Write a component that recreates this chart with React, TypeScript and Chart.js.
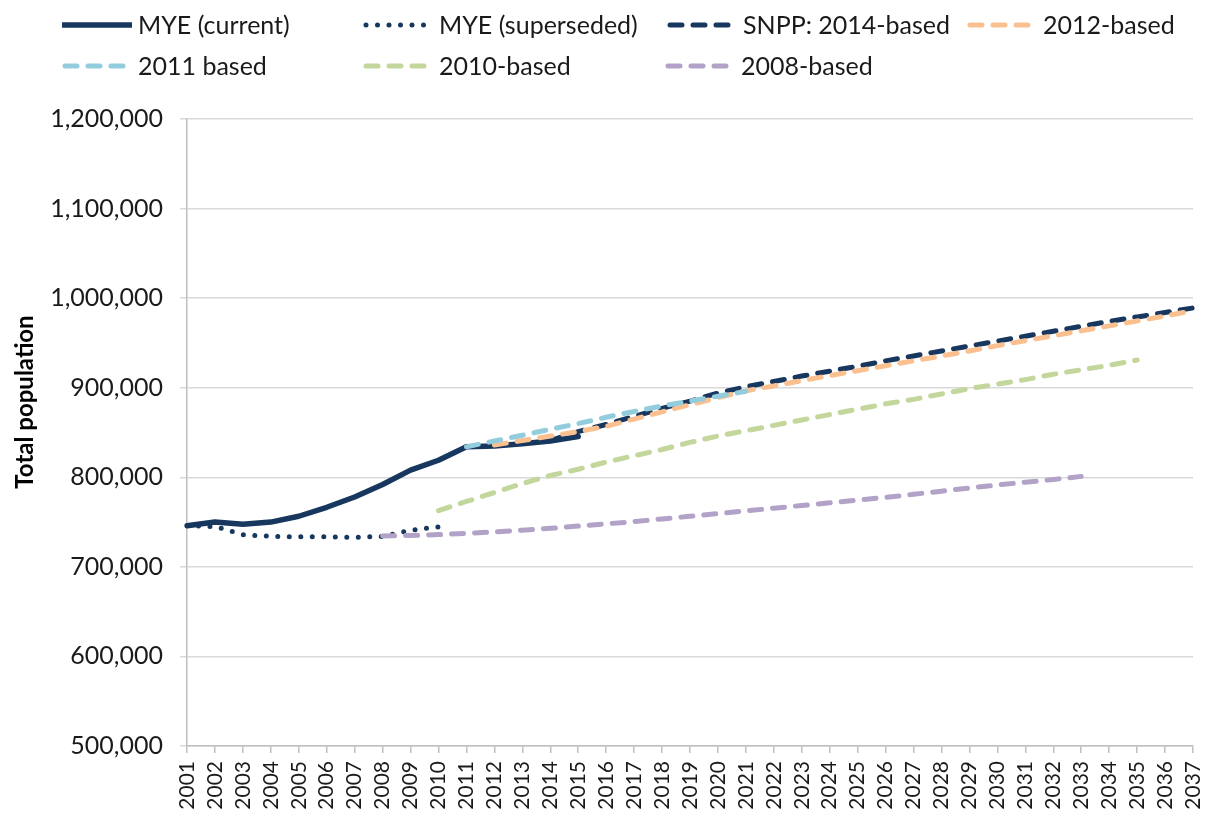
import React, { useEffect, useRef } from "react";
import { Chart, registerables } from "chart.js";

Chart.register(...registerables);

// ---------- data ----------
const years = [
  "2001", "2002", "2003", "2004", "2005", "2006", "2007", "2008", "2009", "2010",
  "2011", "2012", "2013", "2014", "2015", "2016", "2017", "2018", "2019", "2020",
  "2021", "2022", "2023", "2024", "2025", "2026", "2027", "2028", "2029", "2030",
  "2031", "2032", "2033", "2034", "2035", "2036", "2037",
];

const yTicks = [500000, 600000, 700000, 800000, 900000, 1000000, 1100000, 1200000];
const yTitle = "Total population";

// MYE (current): 2001-2015
const myeCurrentStart = "2001";
const myeCurrent = [
  746000, 750000, 747500, 750000, 756500, 766500, 778000, 792000, 808000, 819000,
  834000, 835000, 837500, 840500, 845500,
];

// MYE (superseded): 2001-2010
const myeSupersededStart = "2001";
const myeSuperseded = [
  746000, 745000, 736000, 734000, 733500, 733500, 733000, 734000, 741000, 744500,
];

// SNPP 2014-based: 2014-2037
const snpp2014Start = "2014";
const snpp2014 = [
  841000, 851000, 859000, 868000, 877000, 885000, 894000, 901000, 907000, 913000,
  918500, 924000, 930000, 935500, 941000, 946500, 952000, 957500, 963000, 968500,
  974000, 979000, 984000, 989000,
];

// 2012-based: 2012-2037
const snpp2012Start = "2012";
const snpp2012 = [
  836000, 841000, 846000, 851000, 857000, 865000, 873000, 881000, 889000, 896500,
  902000, 908000, 913500, 919000, 924500, 930000, 935500, 941000, 947000, 952500,
  958000, 963500, 969000, 974500, 980000, 986000,
];

// 2011 based: 2011-2021
const snpp2011Start = "2011";
const snpp2011 = [
  834000, 840500, 847000, 853500, 860000, 867000, 873500, 879500, 885000, 890500,
  896000,
];

// 2010-based: 2010-2035
const snpp2010Start = "2010";
const snpp2010 = [
  762700, 773000, 783000, 793000, 802000, 809000, 817000, 824000, 831000, 839000,
  846000, 852000, 858000, 864000, 870000, 876000, 882000, 887000, 893000, 899000,
  904000, 909000, 915000, 920000, 925000, 931000,
];

// 2008-based: 2008-2033
const snpp2008Start = "2008";
const snpp2008 = [
  734500, 735000, 736000, 737500, 739000, 741000, 743000, 745500, 748000, 750500,
  753500, 756500, 759500, 762500, 765500, 768500, 771500, 774500, 777500, 781000,
  784500, 788000, 791500, 794500, 797500, 801000,
];

// ---------- styles ----------
const NAVY = "#17375E";
const ORANGE = "#FAC090";
const LIGHTBLUE = "#93CDDD";
const GREEN = "#C3D69B";
const PURPLE = "#B3A2C7";
const TEXT = "#1a1a1a";
const FONT = "Lato, 'Open Sans', sans-serif";
const DASH = [12, 11];
const DOT = [0, 11.5];

function placeOnYears(start: string, values: number[]): (number | null)[] {
  const i0 = years.indexOf(start);
  return years.map((_, i) => (i >= i0 && i - i0 < values.length ? values[i - i0] : null));
}

const seriesDefs = [
  { label: "MYE (current)", start: myeCurrentStart, values: myeCurrent, color: NAVY, dash: [] as number[], width: 5.5 },
  { label: "MYE (superseded)", start: myeSupersededStart, values: myeSuperseded, color: NAVY, dash: DOT, width: 5 },
  { label: "SNPP: 2014-based", start: snpp2014Start, values: snpp2014, color: NAVY, dash: DASH, width: 5 },
  { label: "2012-based", start: snpp2012Start, values: snpp2012, color: ORANGE, dash: DASH, width: 5 },
  { label: "2011 based", start: snpp2011Start, values: snpp2011, color: LIGHTBLUE, dash: DASH, width: 5 },
  { label: "2010-based", start: snpp2010Start, values: snpp2010, color: GREEN, dash: DASH, width: 5 },
  { label: "2008-based", start: snpp2008Start, values: snpp2008, color: PURPLE, dash: DASH, width: 5 },
];

// legend layout (sample start x, row y)
const legendLayout = [
  { x: 62, y: 25 },
  { x: 363, y: 25 },
  { x: 667, y: 25 },
  { x: 967, y: 25 },
  { x: 62, y: 66 },
  { x: 363, y: 66 },
  { x: 665, y: 66 },
];

const customLegend = {
  id: "customLegend",
  afterDraw(chart: any) {
    const ctx = chart.ctx as CanvasRenderingContext2D;
    seriesDefs.forEach((s, i) => {
      const pos = legendLayout[i];
      ctx.save();
      ctx.strokeStyle = s.color;
      ctx.lineWidth = s.width;
      ctx.lineCap = s.dash.length ? "round" : "butt";
      ctx.setLineDash(s.dash);
      ctx.beginPath();
      const sampleW = s.dash.length ? 64 : 70;
      ctx.moveTo(pos.x + (s.dash.length ? 3 : 0), pos.y);
      ctx.lineTo(pos.x + sampleW, pos.y);
      ctx.stroke();
      ctx.setLineDash([]);
      ctx.fillStyle = TEXT;
      ctx.font = `25px ${FONT}`;
      ctx.textBaseline = "middle";
      ctx.textAlign = "left";
      ctx.fillText(s.label, pos.x + 76, pos.y + 1);
      ctx.restore();
    });
    // y-axis title
    ctx.save();
    ctx.translate(25, 402);
    ctx.rotate(-Math.PI / 2);
    ctx.fillStyle = "#000";
    ctx.font = `bold 24px ${FONT}`;
    ctx.textAlign = "center";
    ctx.textBaseline = "middle";
    ctx.fillText(yTitle, 0, 0);
    ctx.restore();
  },
};

export default function App() {
  const canvasRef = useRef<HTMLCanvasElement | null>(null);

  useEffect(() => {
    document.body.style.margin = "0";
    const canvas = canvasRef.current;
    if (!canvas) return;
    const chart = new Chart(canvas, {
      type: "line",
      data: {
        labels: years,
        datasets: seriesDefs.map((s, i) => ({
          label: s.label,
          data: placeOnYears(s.start, s.values),
          borderColor: s.color,
          backgroundColor: s.color,
          borderWidth: s.width,
          borderDash: s.dash,
          borderCapStyle: "round" as const,
          borderJoinStyle: "round" as const,
          pointRadius: 0,
          pointHoverRadius: 0,
          tension: 0,
          spanGaps: false,
          fill: false,
          order: 10 - i,
        })),
      },
      options: {
        responsive: false,
        animation: false,
        layout: { padding: { top: 119, right: 20, left: 0, bottom: 0 } },
        plugins: {
          legend: { display: false },
          tooltip: { enabled: false },
        },
        scales: {
          x: {
            type: "category",
            offset: false,
            grid: {
              display: true,
              drawOnChartArea: false,
              drawTicks: true,
              tickLength: 7,
              color: "#BFBFBF",
              lineWidth: 1.5,
            },
            border: { display: true, color: "#BFBFBF", width: 1.5 },
            ticks: {
              autoSkip: false,
              minRotation: 90,
              maxRotation: 90,
              padding: 8,
              color: TEXT,
              font: { family: FONT, size: 21 },
            },
            afterFit(scale: any) {
              scale.height = 70;
              scale.paddingLeft = 0;
              scale.paddingRight = 0;
            },
          },
          y: {
            type: "linear",
            min: yTicks[0],
            max: yTicks[yTicks.length - 1],
            afterBuildTicks(scale: any) {
              scale.ticks = yTicks.map((v) => ({ value: v }));
            },
            grid: {
              color: "#D9D9D9",
              lineWidth: 1.5,
              drawTicks: true,
              tickLength: 7,
            },
            border: { display: true, color: "#BFBFBF", width: 1.5 },
            ticks: {
              padding: 17,
              color: TEXT,
              font: { family: FONT, size: 25 },
              callback: (v: any) => Number(v).toLocaleString("en-US"),
            },
            afterFit(scale: any) {
              scale.width = 187;
            },
          },
        },
      },
      plugins: [customLegend],
    });
    return () => chart.destroy();
  }, []);

  return (
    <div style={{ width: 1213, height: 816, background: "#fff" }}>
      <canvas ref={canvasRef} width={1213} height={816} />
    </div>
  );
}
